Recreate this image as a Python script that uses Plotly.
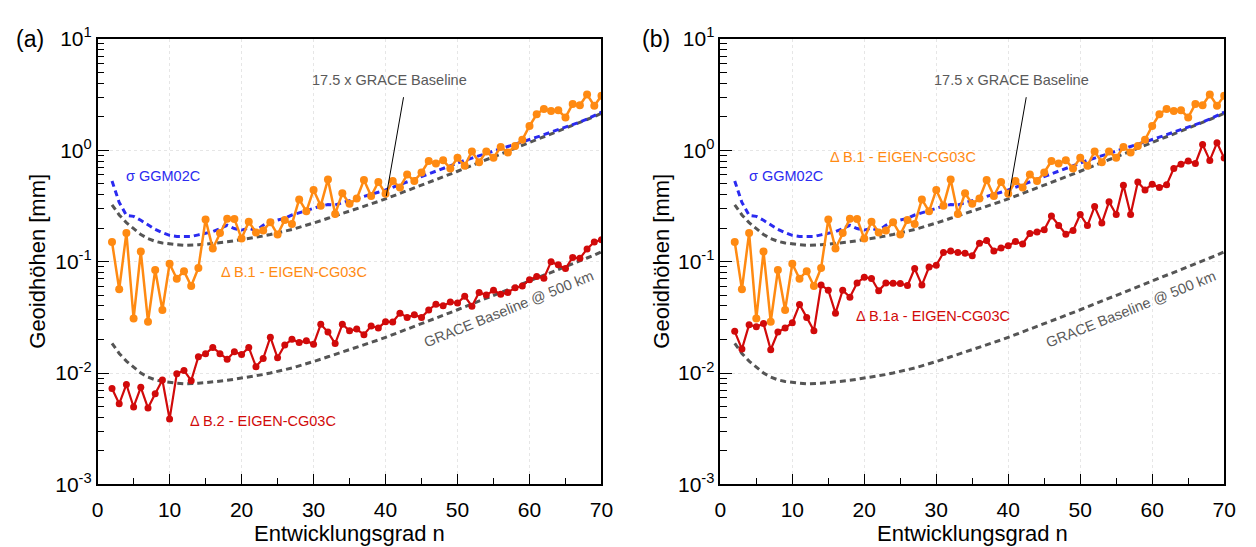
import math
import plotly.graph_objects as go

# spherical harmonic degree
degree = list(range(2, 71))

# GRACE baseline error at 500 km altitude, geoid heights [mm]
grace_baseline_500km = [
    0.0185, 0.0150, 0.0128, 0.0112, 0.0100, 0.0092, 0.0087, 0.0084, 0.0082,
    0.0081, 0.0080, 0.0080, 0.0081, 0.0082, 0.0083, 0.0084, 0.0086, 0.0088,
    0.0090, 0.0092, 0.0094, 0.0097, 0.0100, 0.0103, 0.0107, 0.0111, 0.0116,
    0.0121, 0.0127, 0.0133, 0.0140, 0.0147, 0.0154, 0.0161, 0.0169, 0.0178,
    0.0188, 0.0198, 0.0209, 0.0221, 0.0233, 0.0246, 0.0260, 0.0275, 0.0291,
    0.0309, 0.0329, 0.0349, 0.0370, 0.0393, 0.0417, 0.0443, 0.0470, 0.0499,
    0.0530, 0.0563, 0.0598, 0.0634, 0.0673, 0.0714, 0.0757, 0.0803, 0.0852,
    0.0904, 0.0959, 0.1017, 0.1078, 0.1143, 0.1225,
]
baseline_factor = 17.5

# formal errors of GGM02C
sigma_ggm02c = [
    0.53, 0.34, 0.26, 0.255, 0.235, 0.215, 0.195, 0.182, 0.172, 0.168, 0.167,
    0.168, 0.174, 0.180, 0.186, 0.198, 0.212, 0.198, 0.192, 0.200, 0.190,
    0.212, 0.228, 0.236, 0.245, 0.262, 0.275, 0.285, 0.300, 0.315, 0.325,
    0.322, 0.338, 0.355, 0.368, 0.385, 0.400, 0.420, 0.440, 0.465, 0.490,
    0.520, 0.550, 0.585, 0.620, 0.655, 0.690, 0.730, 0.770, 0.810, 0.850,
    0.895, 0.940, 0.985, 1.03, 1.08, 1.13, 1.19, 1.25, 1.31, 1.38, 1.45,
    1.52, 1.60, 1.69, 1.79, 1.90, 2.03, 2.20,
]

# difference B.1 - EIGEN-CG03C
delta_b1 = [
    0.150, 0.0565, 0.181, 0.0308, 0.123, 0.0289, 0.084, 0.0368, 0.0957,
    0.0703, 0.082, 0.0604, 0.0877, 0.239, 0.131, 0.181, 0.243, 0.242, 0.161,
    0.228, 0.183, 0.190, 0.226, 0.175, 0.237, 0.218, 0.362, 0.283, 0.440,
    0.318, 0.547, 0.268, 0.411, 0.330, 0.368, 0.540, 0.388, 0.519, 0.406,
    0.529, 0.463, 0.604, 0.529, 0.631, 0.800, 0.759, 0.811, 0.687, 0.855,
    0.724, 0.975, 0.780, 0.975, 0.855, 1.07, 0.955, 1.09, 1.24, 1.65, 2.10,
    2.35, 2.25, 2.28, 1.97, 2.60, 2.53, 3.16, 2.51, 3.08,
]

# difference B.2 - EIGEN-CG03C
delta_b2 = [
    0.00726, 0.0053, 0.0079, 0.00496, 0.00745, 0.00485, 0.00653, 0.00866,
    0.00386, 0.00988, 0.01055, 0.00855, 0.0140, 0.0149, 0.0170, 0.0149,
    0.0133, 0.0155, 0.0147, 0.0170, 0.0114, 0.0135, 0.0210, 0.0137, 0.0179,
    0.0201, 0.0188, 0.0195, 0.0181, 0.0274, 0.0233, 0.0184, 0.0274, 0.0240,
    0.0248, 0.0221, 0.0265, 0.0254, 0.0289, 0.0287, 0.0345, 0.0316, 0.0333,
    0.0316, 0.0368, 0.0415, 0.0401, 0.0434, 0.0425, 0.0489, 0.0398, 0.0529,
    0.0501, 0.0554, 0.0510, 0.0529, 0.0584, 0.0604, 0.0689, 0.0735, 0.0710,
    0.100, 0.0937, 0.0867, 0.109, 0.107, 0.130, 0.150, 0.157,
]

# difference B.1a - EIGEN-CG03C
delta_b1a = [
    0.0237, 0.0164, 0.0272, 0.0260, 0.0278, 0.0162, 0.0233, 0.0254, 0.0283,
    0.0412, 0.0316, 0.0240, 0.0616, 0.0554, 0.0345, 0.0554, 0.0480, 0.0644,
    0.0726, 0.0705, 0.0547, 0.0644, 0.0640, 0.0636, 0.0610, 0.0867, 0.0616,
    0.0895, 0.0926, 0.1205, 0.1245, 0.1205, 0.1190, 0.1127, 0.1466, 0.1545,
    0.1245, 0.1327, 0.139, 0.1514, 0.144, 0.1787, 0.1845, 0.193, 0.2565,
    0.2105, 0.176, 0.1905, 0.265, 0.2105, 0.312, 0.222, 0.344, 0.265, 0.486,
    0.265, 0.519, 0.440, 0.496, 0.463, 0.489, 0.687, 0.750, 0.800, 0.760,
    1.125, 0.810, 1.165, 0.850,
]

scaled_baseline = [baseline_factor * v for v in grace_baseline_500km]

ORANGE = "#ff8a12"
RED = "#d10a0a"
BLUE = "#2b2bf0"
GRAY = "#555555"
TEXT_GRAY = "#5a5a5a"
FONT = "Liberation Sans, Arial, sans-serif"

fig = go.Figure()


def add_panel(xa, ya, lower_series):
    xr, yr = xa.replace("axis", ""), ya.replace("axis", "")
    dash = dict(width=3, dash="6px,4px")
    fig.add_trace(go.Scatter(x=degree, y=grace_baseline_500km, mode="lines",
                             line=dict(color=GRAY, **dash), xaxis=xr, yaxis=yr))
    fig.add_trace(go.Scatter(x=degree, y=scaled_baseline, mode="lines",
                             line=dict(color=GRAY, **dash), xaxis=xr, yaxis=yr))
    fig.add_trace(go.Scatter(x=degree, y=sigma_ggm02c, mode="lines",
                             line=dict(color=BLUE, **dash), xaxis=xr, yaxis=yr))
    fig.add_trace(go.Scatter(x=degree, y=delta_b1, mode="lines+markers",
                             line=dict(color=ORANGE, width=2.5),
                             marker=dict(color=ORANGE, size=8),
                             xaxis=xr, yaxis=yr))
    fig.add_trace(go.Scatter(x=degree, y=lower_series, mode="lines+markers",
                             line=dict(color=RED, width=2.2),
                             marker=dict(color=RED, size=7),
                             xaxis=xr, yaxis=yr))


add_panel("xaxis", "yaxis", delta_b2)
add_panel("xaxis2", "yaxis2", delta_b1a)

y_major = [1e-3, 1e-2, 1e-1, 1e0, 1e1]
y_major_text = ["10<sup>-3</sup>", "10<sup>-2</sup>", "10<sup>-1</sup>",
                "10<sup>0</sup>", "10<sup>1</sup>"]
y_minor = [m * 10.0 ** e for e in range(-3, 1) for m in range(2, 10)]

xaxis_style = dict(
    range=[0, 70], tickvals=list(range(0, 71, 10)), ticks="inside", ticklen=11,
    tickwidth=1.2, tickcolor="black", showline=True, linecolor="black",
    linewidth=1.5, mirror=True, showgrid=True, gridcolor="#e6e6e6",
    griddash="dot", gridwidth=1, zeroline=False, ticklabelstandoff=6,
    tickfont=dict(family=FONT, size=21, color="black"),
    minor=dict(dtick=5, ticks="inside", ticklen=7, tickcolor="black",
               showgrid=False),
)
yaxis_style = dict(
    type="log", range=[-3, 1], tickvals=y_major, ticktext=y_major_text,
    ticks="inside", ticklen=12, tickwidth=1.2, tickcolor="black",
    showline=True, linecolor="black", linewidth=1.5, mirror=True,
    showgrid=True, gridcolor="#e6e6e6", griddash="dot", gridwidth=1,
    zeroline=False, tickfont=dict(family=FONT, size=21, color="black"),
    minor=dict(tickvals=y_minor, ticks="inside", ticklen=7,
               tickcolor="black", showgrid=False),
)

fig.update_layout(
    width=1256, height=547, margin=dict(l=0, r=0, t=0, b=0),
    paper_bgcolor="white", plot_bgcolor="white", showlegend=False,
    font=dict(family=FONT),
    xaxis=dict(domain=[0.074, 0.481], anchor="y", **xaxis_style),
    yaxis=dict(domain=[0.0987, 0.9525], anchor="x", **yaxis_style),
    xaxis2=dict(domain=[0.577, 0.984], anchor="y2", **xaxis_style),
    yaxis2=dict(domain=[0.0987, 0.9525], anchor="x2", **yaxis_style),
)

lg = math.log10


def label(xr, yr, x, y, text, color, size=14.5, anchor="left", angle=0):
    fig.add_annotation(xref=xr, yref=yr, x=x, y=lg(y), text=text,
                       showarrow=False, xanchor=anchor, yanchor="middle",
                       textangle=angle,
                       font=dict(family=FONT, size=size, color=color))


# panel (a)
label("x", "y", 3.6, 0.59, "σ GGM02C", BLUE)
label("x", "y", 16.9, 0.081, "Δ B.1 - EIGEN-CG03C", ORANGE)
label("x", "y", 12.6, 0.0037, "Δ B.2 - EIGEN-CG03C", RED)
label("x", "y", 40.5, 4.28, "17.5 x GRACE Baseline", TEXT_GRAY, anchor="center")
label("x", "y", 57.1, 0.0376, "GRACE Baseline @ 500 km", TEXT_GRAY,
      anchor="center", angle=-22)

# panel (b)
label("x2", "y2", 3.66, 0.59, "σ GGM02C", BLUE)
label("x2", "y2", 14.9, 0.877, "Δ B.1 - EIGEN-CG03C", ORANGE)
label("x2", "y2", 18.6, 0.0327, "Δ B.1a - EIGEN-CG03C", RED)
label("x2", "y2", 40.5, 4.28, "17.5 x GRACE Baseline", TEXT_GRAY, anchor="center")
label("x2", "y2", 57.1, 0.0376, "GRACE Baseline @ 500 km", TEXT_GRAY,
      anchor="center", angle=-22)

# leader lines to the scaled baseline
for xr, yr in (("x", "y"), ("x2", "y2")):
    fig.add_shape(type="line", xref=xr, yref=yr, x0=40.1, y0=0.388,
                  x1=42.5, y1=2.99, line=dict(color="black", width=1))

# panel letters and axis titles
for px, txt in ((0.019, "(a)"), (0.525, "(b)")):
    fig.add_annotation(xref="paper", yref="paper", x=px, y=0.953, text=txt,
                       showarrow=False, xanchor="center", yanchor="middle",
                       font=dict(family=FONT, size=23, color="black"))
for px in (0.0255, 0.5295):
    fig.add_annotation(xref="paper", yref="paper", x=px, y=0.5265,
                       text="Geoidhöhen [mm]", showarrow=False, textangle=-90,
                       xanchor="center", yanchor="middle",
                       font=dict(family=FONT, size=22, color="black"))
for px in (0.2775, 0.7806):
    fig.add_annotation(xref="paper", yref="paper", x=px, y=0.004,
                       text="Entwicklungsgrad n", showarrow=False,
                       xanchor="center", yanchor="middle",
                       font=dict(family=FONT, size=22, color="black"))

fig.write_html("out.html")
